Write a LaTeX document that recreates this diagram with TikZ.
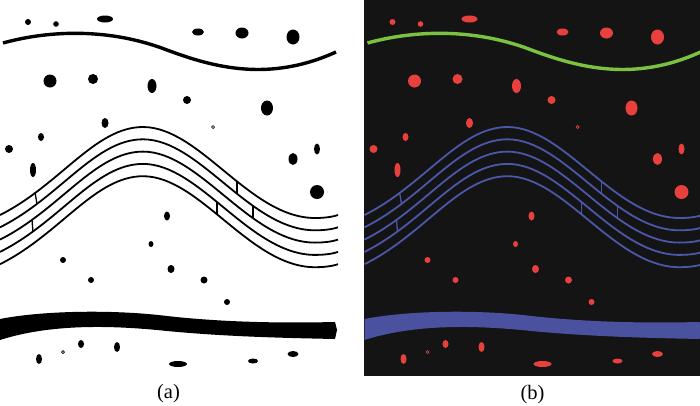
\documentclass[tikz,border=0pt]{standalone}
\usepackage{fontspec}
\setmainfont{Liberation Serif}
\definecolor{bgdark}{HTML}{141414}
\definecolor{redd}{HTML}{E8403C}
\definecolor{greenl}{HTML}{7CC242}
\definecolor{bluew}{HTML}{4B57A8}
\definecolor{blueb}{HTML}{4A52A0}
\tikzset{
  dotst/.style={fill=dotc, draw=none},
  ringst/.style={draw=dotc, line width=0.7pt, fill=none},
  topline/.style={draw=linec, line width=3.4pt},
  waveline/.style={draw=wavec, line width=1.8pt},
  breakmark/.style={draw=wavec, line width=1.3pt},
  bandst/.style={fill=bandc, draw=none},
  lbl/.style={font=\fontsize{20.5}{22}\selectfont, inner sep=0pt}
}
\newcommand{\drawpanel}{%
  % top line
  \draw[topline] (3,43) .. controls (50,30) and (110,28) .. (167,50)
     .. controls (215,68) and (270,82) .. (336,52);
  % waves
  \foreach \k in {0,1,2,3,4}{
    \draw[waveline, yshift=-12.3*\k] (0,215) .. controls (60,185) and (95,127) .. (143,127)
      .. controls (200,127) and (250,218) .. (315,218)
      .. controls (328,218) and (335,216) .. (338,215);
  }
  \draw[breakmark] (35,192) -- (37,204);
  \draw[breakmark] (32,220) -- (33,232);
  \draw[breakmark] (237,181) -- (237,193);
  \draw[breakmark] (217,202) -- (217,214);
  \draw[breakmark] (253,206) -- (253,218);
  % band
  \fill[bandst] (0,319) .. controls (40,311) and (110,309) .. (167,316)
     .. controls (230,323) and (290,323) .. (335,322)
     -- (337,330) -- (335,339)
     .. controls (290,338) and (230,337) .. (167,331)
     .. controls (110,325) and (50,324) .. (0,340) -- cycle;
  % dots
  \fill[dotst] (28,22) circle[radius=3];
  \fill[dotst] (56,24) circle[radius=2.8];
  \fill[dotst] (105,19) ellipse[x radius=8,y radius=3.5];
  \fill[dotst] (198,32) ellipse[x radius=6,y radius=3.5];
  \fill[dotst] (242,33) ellipse[x radius=6.5,y radius=5.5];
  \fill[dotst] (293,37) ellipse[x radius=6.5,y radius=7.5];
  \fill[dotst] (50,81) circle[radius=6.5];
  \fill[dotst] (93,79) circle[radius=5];
  \fill[dotst] (152,86) ellipse[x radius=4.5,y radius=7];
  \fill[dotst] (187,100) circle[radius=4];
  \fill[dotst] (267,108) ellipse[x radius=6,y radius=7.5];
  \fill[dotst] (105,123) ellipse[x radius=3.5,y radius=5];
  \draw[ringst] (213,127) circle[radius=1.5];
  \fill[dotst] (41,137) ellipse[x radius=3,y radius=4];
  \fill[dotst] (9,149) circle[radius=4];
  \fill[dotst] (33,170) ellipse[x radius=3,y radius=7];
  \fill[dotst] (293,159) ellipse[x radius=4.5,y radius=6];
  \fill[dotst] (317,149) ellipse[x radius=3,y radius=5.5];
  \fill[dotst] (317,192) circle[radius=7];
  \fill[dotst] (167,216) ellipse[x radius=3,y radius=4.5];
  \fill[dotst] (151,244) ellipse[x radius=2.5,y radius=3];
  \fill[dotst] (63,260) circle[radius=3];
  \fill[dotst] (91,280) circle[radius=3];
  \fill[dotst] (171,269) ellipse[x radius=3.5,y radius=4];
  \fill[dotst] (204,280) circle[radius=3.5];
  \fill[dotst] (227,302) circle[radius=3];
  \fill[dotst] (39,359) ellipse[x radius=3,y radius=5];
  \draw[ringst] (63,352) circle[radius=1.5];
  \fill[dotst] (81,344) ellipse[x radius=3,y radius=4];
  \fill[dotst] (117,347) ellipse[x radius=3,y radius=5];
  \fill[dotst] (178,364) ellipse[x radius=9,y radius=3];
  \fill[dotst] (253,361) ellipse[x radius=5,y radius=2.5];
  \fill[dotst] (293,354) ellipse[x radius=5.5,y radius=3];
}
\begin{document}
\begin{tikzpicture}[x=1pt,y=-1pt]
  \useasboundingbox (0,0) rectangle (700,405);
  \fill[white] (0,0) rectangle (700,405);
  % panel (a)
  \begin{scope}
    \colorlet{dotc}{black}\colorlet{linec}{black}\colorlet{wavec}{black}\colorlet{bandc}{black}
    \clip (0,0) rectangle (340,372);
    \drawpanel
  \end{scope}
  % panel (b)
  \fill[bgdark] (364,0) rectangle (700,376);
  \begin{scope}
    \clip (364,0) rectangle (700,376);
    \colorlet{dotc}{redd}\colorlet{linec}{greenl}\colorlet{wavec}{bluew}\colorlet{bandc}{blueb}
    \begin{scope}[shift={(364.5,0)}]
      \drawpanel
    \end{scope}
  \end{scope}
  \node[lbl] (la) at (168.5,393.5) {(a)};
  \node[lbl] (lb) at (532.5,394.5) {(b)};
\end{tikzpicture}
\end{document}
